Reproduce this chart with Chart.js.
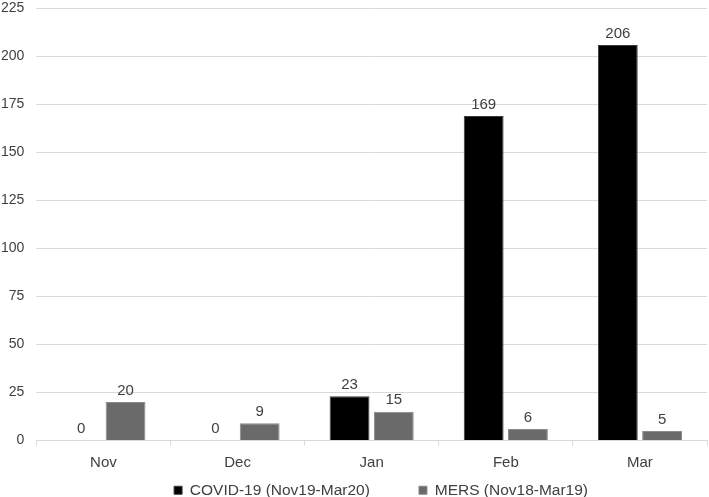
<!DOCTYPE html>
<html>
<head>
<meta charset="utf-8">
<script src="https://cdn.jsdelivr.net/npm/chart.js@4/dist/chart.umd.min.js"></script>
<style>
  html, body { margin: 0; padding: 0; background: #fff; }
  #wrap { width: 709px; height: 497px; }
</style>
</head>
<body>
<div id="wrap"><canvas id="chart"></canvas></div>
<script>
// data
const months = ['Nov', 'Dec', 'Jan', 'Feb', 'Mar'];
const covid = [0, 0, 23, 169, 206];
const mers = [20, 9, 15, 6, 5];
const seriesNames = ['COVID-19 (Nov19-Mar20)', 'MERS (Nov18-Mar19)'];

const textColor = '#404040';
const gridColor = '#d9d9d9';
const fontFamily = '"Liberation Sans", Arial, sans-serif';

// draws the value above each bar, zeros included
const valueLabels = {
  id: 'valueLabels',
  afterDatasetsDraw(chart) {
    const ctx = chart.ctx;
    ctx.save();
    ctx.font = '15px ' + fontFamily;
    ctx.fillStyle = textColor;
    ctx.textAlign = 'center';
    ctx.textBaseline = 'bottom';
    chart.data.datasets.forEach((ds, i) => {
      chart.getDatasetMeta(i).data.forEach((bar, j) => {
        ctx.fillText(String(ds.data[j]), bar.x, bar.y - 4);
      });
    });
    ctx.restore();
  }
};

// legend padding also sets row height, so wide gaps between the two
// entries come from invisible spacer items instead
function legendItems(chart) {
  const items = Chart.defaults.plugins.legend.labels.generateLabels(chart);
  const gap = { text: ' ', fillStyle: 'rgba(0,0,0,0)', strokeStyle: 'rgba(0,0,0,0)', lineWidth: 0, hidden: false, datasetIndex: -1 };
  return [{ ...gap, text: '' }, items[0], { ...gap }, { ...gap }, items[1]];
}

new Chart(document.getElementById('chart'), {
  type: 'bar',
  data: {
    labels: months,
    datasets: [
      { label: seriesNames[0], data: covid, backgroundColor: '#000000', borderColor: '#3a3a3a', borderWidth: 1 },
      { label: seriesNames[1], data: mers, backgroundColor: '#6a6a6a', borderColor: '#8a8a8a', borderWidth: 1 }
    ]
  },
  options: {
    responsive: true,
    maintainAspectRatio: false,
    animation: false,
    categoryPercentage: 0.66,
    barPercentage: 0.9,
    layout: { padding: { top: 0, right: 2, left: 1, bottom: -11 } },
    plugins: {
      legend: {
        position: 'bottom',
        fullSize: false,
        labels: {
          color: textColor,
          boxWidth: 8, boxHeight: 8,
          padding: 3,
          font: { family: fontFamily, size: 15.5 },
          generateLabels: legendItems
        }
      },
      tooltip: { enabled: false }
    },
    scales: {
      x: {
        grid: { display: true, drawOnChartArea: false, drawTicks: true, tickLength: 5, color: gridColor, offset: true },
        border: { color: gridColor },
        ticks: { color: textColor, padding: 8, font: { family: fontFamily, size: 15 } }
      },
      y: {
        min: 0, max: 225,
        ticks: { stepSize: 25, color: textColor, padding: 0, font: { family: fontFamily, size: 14 } },
        grid: { color: gridColor, drawTicks: true, tickLength: 12, tickColor: 'rgba(0,0,0,0)' },
        border: { display: false }
      }
    }
  },
  plugins: [valueLabels]
});
</script>
</body>
</html>
